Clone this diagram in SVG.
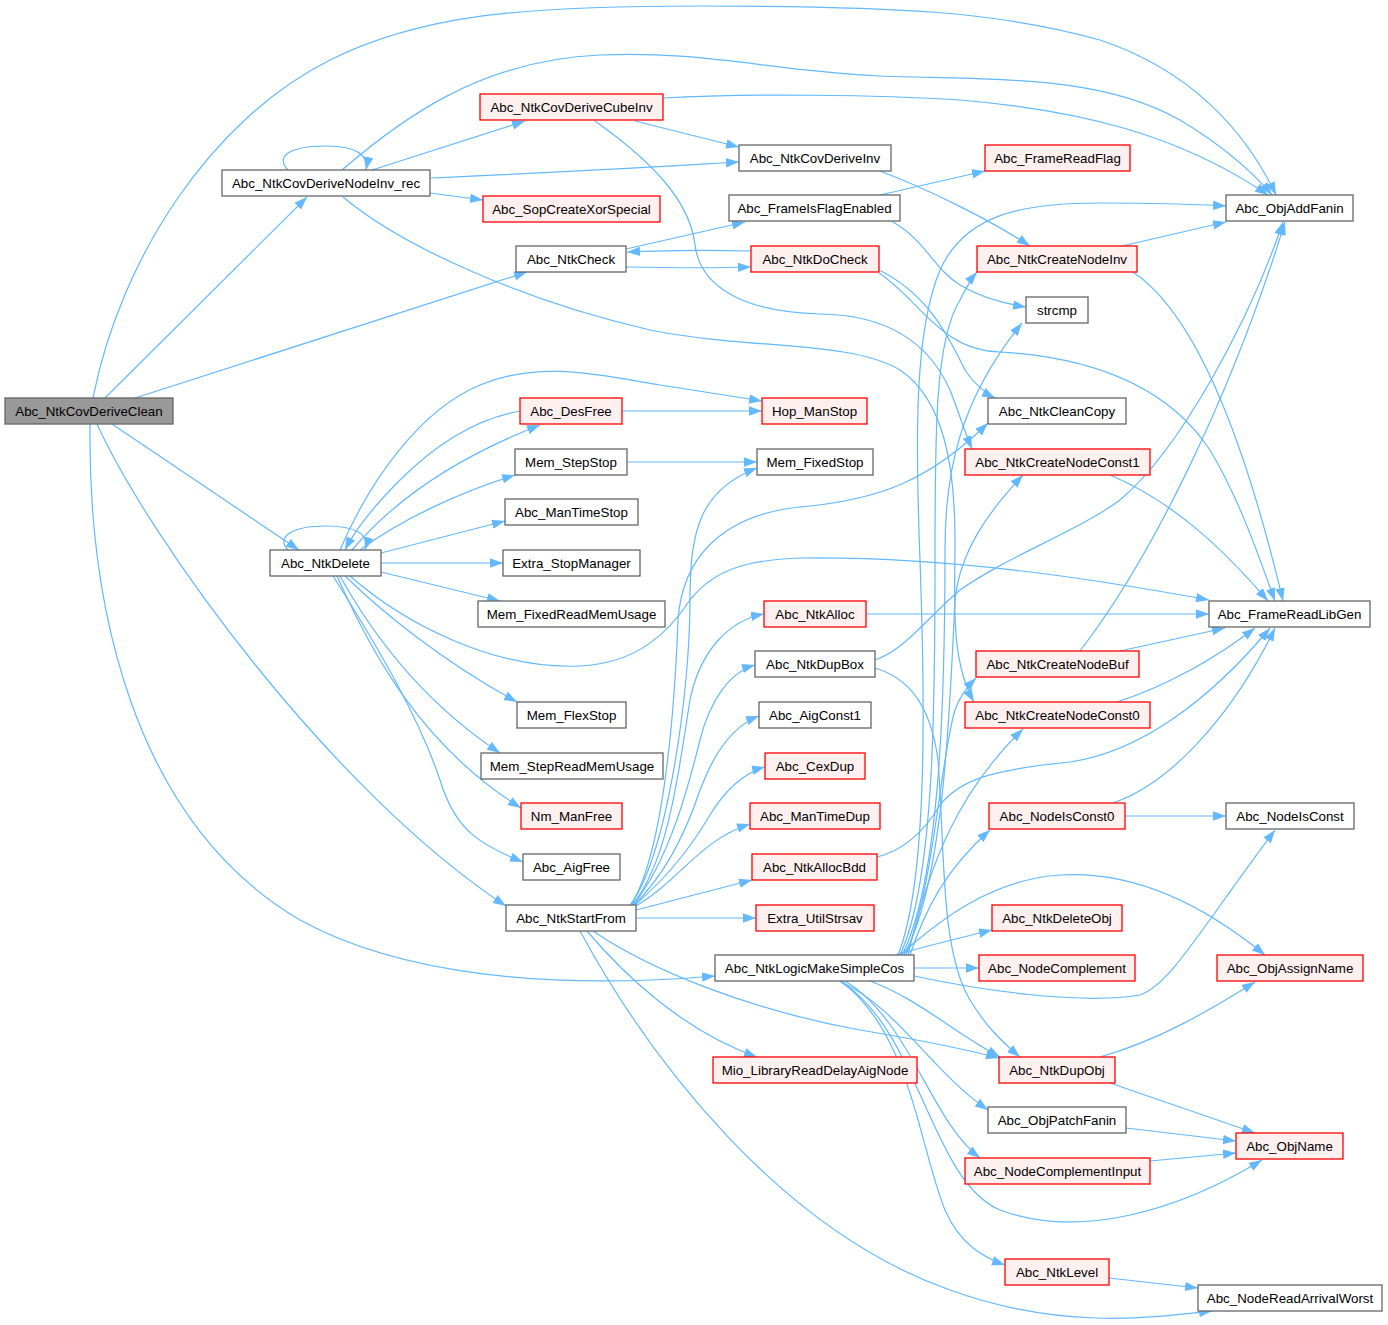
<svg xmlns="http://www.w3.org/2000/svg" width="1388" height="1325" viewBox="0 0 1388 1325">
<style>
.nd rect{fill:#ffffff;stroke:#666666;stroke-width:1.3}
.rd rect{fill:#fff0f0;stroke:#ff0000;stroke-width:1.3}
.rt rect{fill:#999999;stroke:#666666;stroke-width:1.3}
text{font-family:"Liberation Sans",Arial,Helvetica,sans-serif;font-size:13.33px;fill:#000;text-anchor:middle}
.e path{fill:none;stroke:#63b8ff;stroke-width:1.2;marker-end:url(#a)}
</style>
<defs>
<marker id="a" markerWidth="13" markerHeight="10" refX="13" refY="4.7" orient="auto" markerUnits="userSpaceOnUse"><path d="M0,0 L13,4.7 L0,9.4z" fill="#63b8ff"/></marker>
</defs>
<rect width="1388" height="1325" fill="#fff"/>
<g id="edges" class="e">
<path d="M93,398 C120,260 210,120 330,60 C420,15 520,6 700,6 C900,6 1000,12 1100,40 C1190,70 1245,130 1276,195"/>
<path d="M105,398 L307,197"/>
<path d="M135,398 L527,272"/>
<path d="M112,424 L299,550"/>
<path d="M97,424 C150,540 330,790 506,906"/>
<path d="M90,424 C88,600 130,820 300,920 C400,975 550,990 715,976"/>
<path d="M288,170 C276,158 286,146 326,146 C356,146 369,155 366,170"/>
<path d="M342,170 C400,120 480,60 600,55 C700,50 780,72 880,76 C1000,80 1100,75 1180,120 C1230,150 1255,175 1272,195"/>
<path d="M372,170 L525,121"/>
<path d="M430,178 C530,174 650,167 739,162"/>
<path d="M430,193 L483,200"/>
<path d="M343,197 C400,245 520,300 650,330 C750,350 850,340 900,370 C945,400 955,470 955,540 C955,600 950,660 974,702"/>
<path d="M635,121 L739,147"/>
<path d="M663,98 C750,93 880,95 960,100 C1080,110 1180,135 1268,195"/>
<path d="M595,121 C650,160 690,200 695,245 C700,285 740,312 820,314 C890,315 930,345 950,390 C958,410 964,430 972,449"/>
<path d="M626,249 L745,222"/>
<path d="M626,267 C680,268 720,268 751,267"/>
<path d="M751,251 C710,250 670,250 627,252"/>
<path d="M880,195 L985,171"/>
<path d="M893,222 C925,240 935,270 960,285 C980,297 1000,303 1026,307"/>
<path d="M880,171 C930,190 990,220 1030,246"/>
<path d="M879,270 C930,295 950,340 965,370 C975,385 985,393 995,398"/>
<path d="M879,273 C920,300 940,350 1000,352 C1100,358 1170,390 1210,450 C1240,500 1260,560 1275,601"/>
<path d="M288,550 C276,538 290,526 326,526 C355,526 370,534 365,550"/>
<path d="M340,550 C370,480 420,410 480,385 C540,360 600,375 660,385 C700,391 730,396 762,401"/>
<path d="M520,411 C480,418 440,440 400,480 C375,505 355,530 345,550"/>
<path d="M352,550 C390,505 450,460 540,425"/>
<path d="M360,550 C400,520 460,492 515,475"/>
<path d="M381,553 L505,521"/>
<path d="M381,563 L503,563"/>
<path d="M381,572 L500,601"/>
<path d="M350,576 C400,620 490,670 580,666 C640,663 670,630 690,600 C715,568 750,560 800,558 C950,556 1100,580 1209,600"/>
<path d="M345,576 C380,610 440,660 517,702"/>
<path d="M340,576 C370,630 420,700 500,753"/>
<path d="M337,576 C370,650 420,745 521,808"/>
<path d="M333,576 C380,650 420,720 440,780 C455,830 480,845 523,862"/>
<path d="M627,462 L757,462"/>
<path d="M622,411 L762,411"/>
<path d="M630,905 C665,860 690,700 690,600 C690,530 700,490 757,468"/>
<path d="M631,905 C665,850 675,700 678,620 C682,560 720,515 800,507 C880,500 930,480 988,423"/>
<path d="M632,905 C670,860 680,760 690,700 C700,650 730,620 764,614"/>
<path d="M633,905 C670,860 690,780 700,740 C710,700 730,672 755,665"/>
<path d="M634,905 C670,870 690,820 700,790 C715,750 735,725 759,716"/>
<path d="M635,905 C675,870 695,840 710,815 C725,790 745,772 765,767"/>
<path d="M636,906 C680,880 700,840 750,824"/>
<path d="M636,910 L752,880"/>
<path d="M636,918 L756,918"/>
<path d="M587,931 C620,970 680,1030 757,1057"/>
<path d="M593,931 C650,970 750,1010 860,1030 C920,1040 960,1048 999,1058"/>
<path d="M580,931 C650,1060 780,1230 950,1290 C1060,1330 1150,1318 1212,1311"/>
<path d="M898,955 C928,880 925,700 920,560 C915,430 915,330 940,270 C965,215 1020,203 1100,203 C1150,203 1190,204 1226,206"/>
<path d="M900,955 C935,880 935,700 935,560 C935,430 935,340 960,300 C966,288 970,280 977,272"/>
<path d="M902,955 C940,880 945,700 945,550 C945,470 960,400 1022,323"/>
<path d="M904,955 C945,880 950,700 955,600 C960,550 990,510 1023,475"/>
<path d="M906,955 C935,880 940,760 955,710 C960,695 968,686 976,678"/>
<path d="M908,955 C930,860 960,790 1023,729"/>
<path d="M910,955 C925,910 945,870 990,830"/>
<path d="M914,976 C980,990 1080,1005 1140,995 C1170,985 1200,930 1275,830"/>
<path d="M900,955 C940,920 990,880 1060,875 C1140,870 1210,910 1265,955"/>
<path d="M895,955 C930,945 960,938 992,930"/>
<path d="M914,968 L979,968"/>
<path d="M870,981 C920,1000 950,1030 1000,1057"/>
<path d="M840,981 C900,1010 930,1070 988,1110"/>
<path d="M845,981 C910,1020 930,1120 980,1158"/>
<path d="M840,981 C920,1030 930,1180 1000,1210 C1080,1240 1180,1210 1262,1160"/>
<path d="M840,981 C910,1030 920,1150 945,1210 C960,1245 985,1258 1005,1265"/>
<path d="M1125,816 L1226,816"/>
<path d="M1113,803 C1180,780 1240,700 1275,628"/>
<path d="M1117,702 C1170,685 1220,655 1255,628"/>
<path d="M1120,651 L1225,628"/>
<path d="M1080,651 C1150,560 1230,400 1285,222"/>
<path d="M1110,475 C1170,500 1220,545 1268,601"/>
<path d="M1122,246 L1226,222"/>
<path d="M1133,272 C1190,310 1240,420 1283,601"/>
<path d="M866,614 L1209,614"/>
<path d="M877,857 C905,850 925,830 940,805 C960,780 990,770 1070,762 C1140,752 1210,700 1270,628"/>
<path d="M875,660 C905,650 930,615 960,590 C1010,555 1080,530 1120,500 C1180,450 1250,320 1283,222"/>
<path d="M875,668 C905,677 930,700 938,760 C945,850 940,950 970,1000 C985,1025 1000,1040 1020,1057"/>
<path d="M1100,1057 C1160,1040 1210,1010 1255,982"/>
<path d="M1110,1083 L1255,1133"/>
<path d="M1126,1128 L1236,1141"/>
<path d="M1150,1161 L1236,1153"/>
<path d="M1109,1278 L1198,1288"/>
</g>
<g id="n_clean" class="rt"><rect x="5" y="398" width="168" height="26"/><text x="89" y="415.7">Abc_NtkCovDeriveClean</text></g>
<g id="n_rec" class="nd"><rect x="222" y="170" width="208" height="26"/><text x="326" y="187.7">Abc_NtkCovDeriveNodeInv_rec</text></g>
<g id="n_del" class="nd"><rect x="270" y="550" width="111" height="26"/><text x="325.5" y="567.7">Abc_NtkDelete</text></g>
<g id="n_start" class="nd"><rect x="506" y="905" width="130" height="26"/><text x="571" y="922.7">Abc_NtkStartFrom</text></g>
<g id="n_cube" class="rd"><rect x="480" y="94" width="183" height="26"/><text x="571.5" y="111.7">Abc_NtkCovDeriveCubeInv</text></g>
<g id="n_xor" class="rd"><rect x="483" y="196" width="177" height="26"/><text x="571.5" y="213.7">Abc_SopCreateXorSpecial</text></g>
<g id="n_check" class="nd"><rect x="516" y="246" width="110" height="26"/><text x="571" y="263.7">Abc_NtkCheck</text></g>
<g id="n_desfree" class="rd"><rect x="520" y="398" width="102" height="26"/><text x="571" y="415.7">Abc_DesFree</text></g>
<g id="n_memstep" class="nd"><rect x="515" y="449" width="112" height="26"/><text x="571" y="466.7">Mem_StepStop</text></g>
<g id="n_mantimestop" class="nd"><rect x="505" y="499" width="133" height="26"/><text x="571.5" y="516.7">Abc_ManTimeStop</text></g>
<g id="n_extra" class="nd"><rect x="503" y="550" width="137" height="26"/><text x="571.5" y="567.7">Extra_StopManager</text></g>
<g id="n_fixedread" class="nd"><rect x="478" y="601" width="187" height="26"/><text x="571.5" y="618.7">Mem_FixedReadMemUsage</text></g>
<g id="n_flex" class="nd"><rect x="517" y="702" width="109" height="26"/><text x="571.5" y="719.7">Mem_FlexStop</text></g>
<g id="n_stepread" class="nd"><rect x="481" y="753" width="182" height="26"/><text x="572" y="770.7">Mem_StepReadMemUsage</text></g>
<g id="n_nm" class="rd"><rect x="521" y="803" width="101" height="26"/><text x="571.5" y="820.7">Nm_ManFree</text></g>
<g id="n_aigfree" class="nd"><rect x="523" y="854" width="97" height="26"/><text x="571.5" y="871.7">Abc_AigFree</text></g>
<g id="n_covinv" class="nd"><rect x="739" y="145" width="152" height="26"/><text x="815" y="162.7">Abc_NtkCovDeriveInv</text></g>
<g id="n_flagen" class="nd"><rect x="729" y="195" width="171" height="26"/><text x="814.5" y="212.7">Abc_FrameIsFlagEnabled</text></g>
<g id="n_docheck" class="rd"><rect x="751" y="246" width="128" height="26"/><text x="815" y="263.7">Abc_NtkDoCheck</text></g>
<g id="n_hop" class="rd"><rect x="762" y="398" width="105" height="26"/><text x="814.5" y="415.7">Hop_ManStop</text></g>
<g id="n_fixedstop" class="nd"><rect x="757" y="449" width="116" height="26"/><text x="815" y="466.7">Mem_FixedStop</text></g>
<g id="n_alloc" class="rd"><rect x="764" y="601" width="102" height="26"/><text x="815" y="618.7">Abc_NtkAlloc</text></g>
<g id="n_dupbox" class="nd"><rect x="755" y="651" width="120" height="26"/><text x="815" y="668.7">Abc_NtkDupBox</text></g>
<g id="n_aigconst1" class="nd"><rect x="759" y="702" width="112" height="26"/><text x="815" y="719.7">Abc_AigConst1</text></g>
<g id="n_cexdup" class="rd"><rect x="765" y="753" width="100" height="26"/><text x="815" y="770.7">Abc_CexDup</text></g>
<g id="n_mantimedup" class="rd"><rect x="750" y="803" width="130" height="26"/><text x="815" y="820.7">Abc_ManTimeDup</text></g>
<g id="n_allocbdd" class="rd"><rect x="752" y="854" width="125" height="26"/><text x="814.5" y="871.7">Abc_NtkAllocBdd</text></g>
<g id="n_strsav" class="rd"><rect x="756" y="905" width="118" height="26"/><text x="815" y="922.7">Extra_UtilStrsav</text></g>
<g id="n_simplecos" class="nd"><rect x="715" y="955" width="199" height="26"/><text x="814.5" y="972.7">Abc_NtkLogicMakeSimpleCos</text></g>
<g id="n_mio" class="rd"><rect x="713" y="1057" width="204" height="26"/><text x="815" y="1074.7">Mio_LibraryReadDelayAigNode</text></g>
<g id="n_readflag" class="rd"><rect x="985" y="145" width="145" height="26"/><text x="1057.5" y="162.7">Abc_FrameReadFlag</text></g>
<g id="n_createinv" class="rd"><rect x="977" y="246" width="160" height="26"/><text x="1057" y="263.7">Abc_NtkCreateNodeInv</text></g>
<g id="n_strcmp" class="nd"><rect x="1026" y="297" width="62" height="26"/><text x="1057" y="314.7">strcmp</text></g>
<g id="n_cleancopy" class="nd"><rect x="988" y="398" width="138" height="26"/><text x="1057" y="415.7">Abc_NtkCleanCopy</text></g>
<g id="n_const1" class="rd"><rect x="965" y="449" width="185" height="26"/><text x="1057.5" y="466.7">Abc_NtkCreateNodeConst1</text></g>
<g id="n_buf" class="rd"><rect x="976" y="651" width="163" height="26"/><text x="1057.5" y="668.7">Abc_NtkCreateNodeBuf</text></g>
<g id="n_const0" class="rd"><rect x="965" y="702" width="185" height="26"/><text x="1057.5" y="719.7">Abc_NtkCreateNodeConst0</text></g>
<g id="n_isconst0" class="rd"><rect x="989" y="803" width="136" height="26"/><text x="1057" y="820.7">Abc_NodeIsConst0</text></g>
<g id="n_deleteobj" class="rd"><rect x="992" y="905" width="130" height="26"/><text x="1057" y="922.7">Abc_NtkDeleteObj</text></g>
<g id="n_complement" class="rd"><rect x="979" y="955" width="156" height="26"/><text x="1057" y="972.7">Abc_NodeComplement</text></g>
<g id="n_dupobj" class="rd"><rect x="999" y="1057" width="116" height="26"/><text x="1057" y="1074.7">Abc_NtkDupObj</text></g>
<g id="n_patch" class="nd"><rect x="988" y="1107" width="138" height="26"/><text x="1057" y="1124.7">Abc_ObjPatchFanin</text></g>
<g id="n_compinput" class="rd"><rect x="965" y="1158" width="185" height="26"/><text x="1057.5" y="1175.7">Abc_NodeComplementInput</text></g>
<g id="n_level" class="rd"><rect x="1005" y="1259" width="104" height="26"/><text x="1057" y="1276.7">Abc_NtkLevel</text></g>
<g id="n_addfanin" class="nd"><rect x="1226" y="195" width="127" height="26"/><text x="1289.5" y="212.7">Abc_ObjAddFanin</text></g>
<g id="n_libgen" class="nd"><rect x="1209" y="601" width="161" height="26"/><text x="1289.5" y="618.7">Abc_FrameReadLibGen</text></g>
<g id="n_isconst" class="nd"><rect x="1226" y="803" width="128" height="26"/><text x="1290" y="820.7">Abc_NodeIsConst</text></g>
<g id="n_assign" class="rd"><rect x="1217" y="955" width="146" height="26"/><text x="1290" y="972.7">Abc_ObjAssignName</text></g>
<g id="n_objname" class="rd"><rect x="1236" y="1133" width="107" height="26"/><text x="1289.5" y="1150.7">Abc_ObjName</text></g>
<g id="n_arrival" class="nd"><rect x="1198" y="1285" width="184" height="26"/><text x="1290" y="1302.7">Abc_NodeReadArrivalWorst</text></g>
</svg>
